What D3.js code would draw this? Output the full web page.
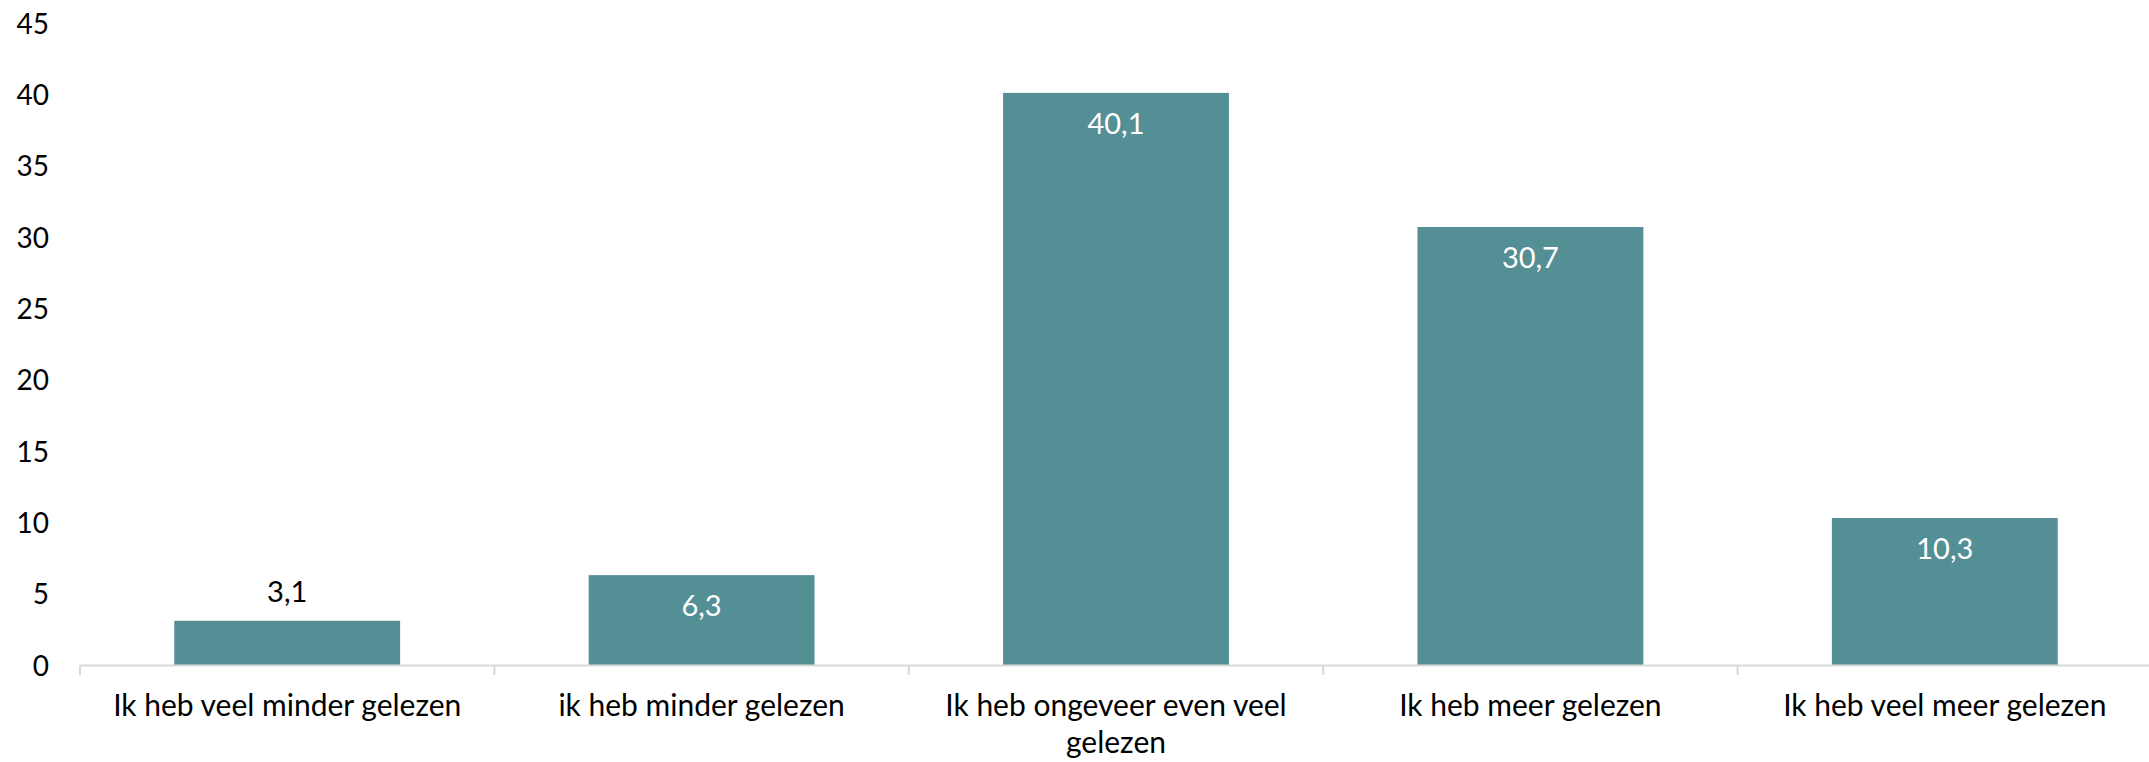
<!DOCTYPE html>
<html>
<head>
<meta charset="utf-8">
<script src="https://cdn.jsdelivr.net/npm/d3@7"></script>
<style>
  html, body { margin: 0; padding: 0; background: #fff; }
  svg { display: block; }
  text { font-family: Lato, "Open Sans", sans-serif; }
</style>
</head>
<body>
<svg id="chart" width="2149" height="762"></svg>
<script>
const categories = [
  "Ik heb veel minder gelezen",
  "ik heb minder gelezen",
  "Ik heb ongeveer even veel gelezen",
  "Ik heb meer gelezen",
  "Ik heb veel meer gelezen"
];
const values = [3.1, 6.3, 40.1, 30.7, 10.3];
const yTicks = [0, 5, 10, 15, 20, 25, 30, 35, 40, 45];
const valueLabels = ["3,1", "6,3", "40,1", "30,7", "10,3"];

const width = 2149, height = 762;
const plot = { left: 80, right: 2152, top: 23, bottom: 665 };
const barColor = "#558F96";
const axisColor = "#D9D9D9";

const svg = d3.select("#chart");

const x = d3.scaleBand()
  .domain(categories)
  .range([plot.left, plot.right])
  .paddingInner(0.455)
  .paddingOuter(0.2275);

const y = d3.scaleLinear()
  .domain([0, 45])
  .range([plot.bottom, plot.top]);

// Y axis labels (no line, no ticks)
const yAxis = svg.append("g")
  .attr("transform", `translate(${plot.left},0)`)
  .call(d3.axisLeft(y).tickValues(yTicks).tickSize(0).tickPadding(31).tickFormat(d3.format("d")));
yAxis.select(".domain").remove();
yAxis.selectAll("text")
  .attr("font-size", 28)
  .attr("font-family", "Lato, 'Open Sans', sans-serif")
  .attr("fill", "#000")
  .attr("dy", "0.36em");

// Bars
svg.append("g").selectAll("rect")
  .data(values)
  .join("rect")
  .attr("x", (d, i) => x(categories[i]))
  .attr("y", d => y(d))
  .attr("width", x.bandwidth())
  .attr("height", d => y(0) - y(d))
  .attr("fill", barColor);

// X axis line and band-boundary ticks
const xg = svg.append("g");
xg.append("line")
  .attr("x1", plot.left).attr("x2", plot.right)
  .attr("y1", y(0) + 0.5).attr("y2", y(0) + 0.5)
  .attr("stroke", axisColor).attr("stroke-width", 2);
const edges = categories.map((c, i) => plot.left + i * x.step()).concat([plot.right]);
xg.selectAll("line.tick")
  .data(edges)
  .join("line")
  .attr("class", "tick")
  .attr("x1", d => d).attr("x2", d => d)
  .attr("y1", y(0)).attr("y2", y(0) + 10)
  .attr("stroke", axisColor).attr("stroke-width", 2);

// Category labels, wrapped
function wrap(textSel, maxWidth, lineHeight) {
  textSel.each(function () {
    const text = d3.select(this);
    const words = text.text().split(/\s+/);
    const xx = text.attr("x");
    text.text(null);
    let line = [];
    let tspan = text.append("tspan").attr("x", xx).attr("dy", 0);
    for (const w of words) {
      line.push(w);
      tspan.text(line.join(" "));
      if (tspan.node().getComputedTextLength() > maxWidth && line.length > 1) {
        line.pop();
        tspan.text(line.join(" "));
        line = [w];
        tspan = text.append("tspan").attr("x", xx).attr("dy", lineHeight).text(w);
      }
    }
  });
}

svg.append("g").selectAll("text")
  .data(categories)
  .join("text")
  .attr("x", d => x(d) + x.bandwidth() / 2)
  .attr("y", y(0) + 51)
  .attr("text-anchor", "middle")
  .attr("font-size", 30)
  .attr("fill", "#000")
  .text(d => d)
  .call(wrap, 390, 37);

// Value labels
const insideThreshold = 60;
svg.append("g").selectAll("text")
  .data(values)
  .join("text")
  .attr("x", (d, i) => x(categories[i]) + x.bandwidth() / 2)
  .attr("y", d => (y(0) - y(d) > insideThreshold) ? y(d) + 41 : y(d) - 19)
  .attr("text-anchor", "middle")
  .attr("font-size", 29)
  .attr("fill", d => (y(0) - y(d) > insideThreshold) ? "#fff" : "#000")
  .text((d, i) => valueLabels[i]);
</script>
</body>
</html>
